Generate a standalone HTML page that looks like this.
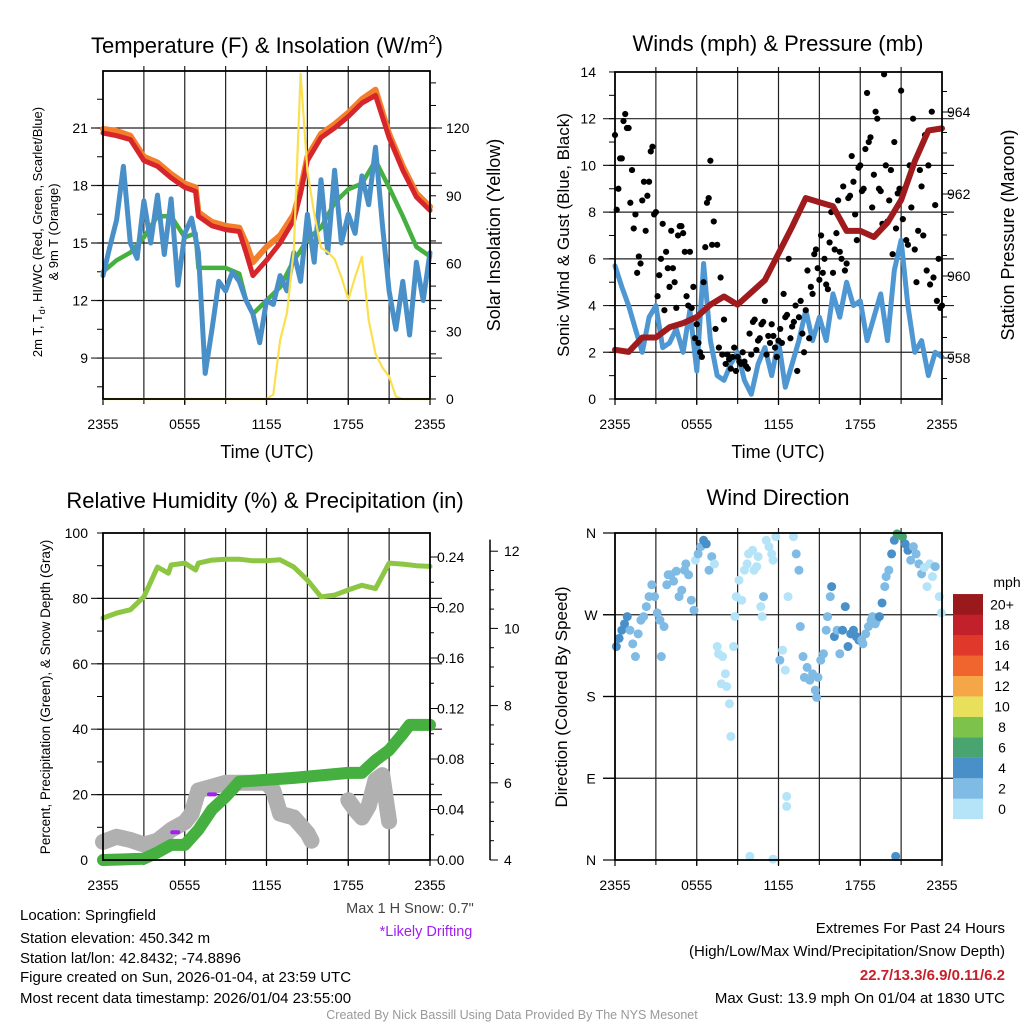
<!DOCTYPE html>
<html><head><meta charset="utf-8">
<style>
html,body{margin:0;padding:0;background:#fff;}
svg{display:block;font-family:"Liberation Sans",Arial,sans-serif;}
text{fill:#000;}
</style></head>
<body>
<svg id="chart" width="1024" height="1024" viewBox="0 0 1024 1024" xmlns="http://www.w3.org/2000/svg">
<rect x="0" y="0" width="1024" height="1024" fill="#fff"/>
<text x="267" y="53" font-size="22" text-anchor="middle">Temperature (F) &amp; Insolation (W/m<tspan font-size="13" dy="-9">2</tspan><tspan dy="9">)</tspan></text>
<text x="778" y="51" font-size="22" text-anchor="middle">Winds (mph) &amp; Pressure (mb)</text>
<text x="265" y="508" font-size="22" text-anchor="middle">Relative Humidity (%) &amp; Precipitation (in)</text>
<text x="778" y="505" font-size="22" text-anchor="middle">Wind Direction</text>
<text x="267" y="458" font-size="18" text-anchor="middle">Time (UTC)</text>
<text x="778" y="458" font-size="18" text-anchor="middle">Time (UTC)</text>
<text transform="translate(42,232) rotate(-90)" font-size="13" text-anchor="middle">2m T, T<tspan font-size="9" dy="3">d</tspan><tspan dy="-3">, HI/WC (Red, Green, Scarlet/Blue)</tspan></text>
<text transform="translate(58,232) rotate(-90)" font-size="13" text-anchor="middle">&amp; 9m T (Orange)</text>
<text transform="translate(500,235) rotate(-90)" font-size="18" text-anchor="middle">Solar Insolation (Yellow)</text>
<text transform="translate(569,235) rotate(-90)" font-size="17" text-anchor="middle">Sonic Wind &amp; Gust (Blue, Black)</text>
<text transform="translate(1014,235) rotate(-90)" font-size="18" text-anchor="middle">Station Pressure (Maroon)</text>
<text transform="translate(50,697) rotate(-90)" font-size="13.5" text-anchor="middle">Percent, Precipitation (Green), &amp; Snow Depth (Gray)</text>
<text transform="translate(567,697) rotate(-90)" font-size="17" text-anchor="middle">Direction (Colored By Speed)</text>
<g font-size="15">
<text x="20" y="920">Location: Springfield</text>
<text x="20" y="943">Station elevation: 450.342 m</text>
<text x="20" y="963">Station lat/lon: 42.8432; -74.8896</text>
<text x="20" y="982">Figure created on Sun, 2026-01-04, at 23:59 UTC</text>
<text x="20" y="1003">Most recent data timestamp: 2026/01/04 23:55:00</text>
</g>
<text x="410" y="913" font-size="14.5" text-anchor="middle" style="fill:#444">Max 1 H Snow: 0.7"</text>
<text x="426" y="936" font-size="14.5" text-anchor="middle" style="fill:#a020f0">*Likely Drifting</text>
<g font-size="15" text-anchor="end">
<text x="1005" y="933">Extremes For Past 24 Hours</text>
<text x="1005" y="956">(High/Low/Max Wind/Precipitation/Snow Depth)</text>
<text x="1005" y="980" font-weight="bold" style="fill:#c8202a">22.7/13.3/6.9/0.11/6.2</text>
<text x="1005" y="1003">Max Gust: 13.9 mph On 01/04 at 1830 UTC</text>
</g>
<text x="512" y="1019" font-size="12.5" text-anchor="middle" style="fill:#999">Created By Nick Bassill Using Data Provided By The NYS Mesonet</text>
<g id="layer"></g>
</svg>
<script>
// ---------- DATA ----------
const xTickLabels = ["2355","0555","1155","1755","2355"];
const tempHours = [0,1,2,3,4,5,6,6.8,7,8,9,10,10.5,11,12,13,14,14.5,15,16,17,18,19,20,21,22,23,24];
const redHIWC = [20.74,20.6,20.4,19.3,19.0,18.4,17.9,17.7,16.4,15.9,15.7,15.6,14.5,13.3,14.1,15.0,16.2,17.6,19.3,20.5,21.0,21.6,22.3,22.7,20.5,18.8,17.4,16.7];
const orange9m = [20.95,20.85,20.6,19.5,19.2,18.6,18.1,17.9,16.6,16.1,15.9,15.8,15.0,14.0,14.8,15.4,16.5,17.8,19.5,20.7,21.2,21.8,22.5,23.0,20.7,19.0,17.6,16.9];
const greenDew = [13.5,14.1,14.5,15.3,16.4,16.4,15.3,15.5,13.7,13.7,13.7,13.4,12.0,11.3,12.0,12.7,14.1,14.6,15.2,15.8,17.1,17.8,18.1,19.3,17.9,16.4,14.8,14.3];
const blueTemp = [13.3,14.8,16.2,19.0,15.0,14.2,17.2,15.0,17.5,14.4,17.3,12.8,15.5,16.3,14.5,8.2,10.5,13.0,12.5,13.5,13.0,12.0,11.3,9.8,12.0,11.8,13.3,12.5,14.5,13.0,16.5,14.0,18.3,14.5,18.8,15.0,16.5,15.5,18.5,17.0,20.0,16.0,12.5,10.5,13.0,10.2,14.0,12.0,14.5];
const solar = [0,0,0,0,0,0,0,0,0,0,0,0,0,0,0,0,0,0,0,0,0,0,0,0,0,2,26,38,66,144,101,82,67,65,62,54,44,54,63,35,20,14,10,1,0,0,0,0,0];
const tempTicks = [9,12,15,18,21];
const solarTicks = [0,30,60,90,120];

const pressHours = [0,1,2,3,4,5,6,7,8,9,10,11,12,13,14,15,16,17,18,19,20,21,22,23,24];
const pressure = [958.2,958.15,958.5,958.5,958.75,958.85,959.0,959.3,959.5,959.3,959.6,959.9,960.55,961.2,961.9,961.8,961.7,961.1,961.1,960.95,961.3,961.85,962.8,963.55,963.6];
const wind = [5.7,4.8,4.0,3.0,2.0,3.5,4.0,2.2,2.4,3.0,2.0,3.8,1.2,5.8,2.5,1.0,0.8,1.5,2.0,0.8,0.2,1.5,2.2,1.0,2.5,0.5,1.5,2.5,3.8,2.5,3.5,2.5,4.5,3.5,5.0,4.0,4.2,2.5,3.5,4.5,2.5,5.5,6.8,4.0,2.0,2.5,1.0,2.0,1.8];
const gustA = [11.3,9.0,10.3,12.2,11.6,9.8,7.9,6.1,8.5,7.2,9.3,10.8,8.0,5.3,7.5,6.3,4.8,5.6,3.9,7.4,7.1,4.4,6.3,4.8,3.2,2.0,5.0,8.4,10.2,7.6,6.6,5.2,3.4,1.9,1.3,2.2,1.8,1.5,1.6,1.3,1.9,3.4,2.5,3.2,4.2,2.7,3.2,2.2,2.5,2.4,3.5,6.0,3.1,4.0,3.5,2.8,3.8,2.6,4.5,6.4,5.1,5.4,4.9,6.7,5.4,7.1,6.3,9.1,5.8,8.7,9.3,6.8,10.0,9.0,13.1,11.2,9.6,12.0,8.9,13.9,7.6,9.8,11.0,8.8,13.2,9.0,6.6,8.2,6.4,7.2,9.1,11.3,10.0,12.3,8.3,6.0,4.0];
const gustB = [8.1,10.3,11.9,11.6,8.4,7.3,5.4,5.8,9.3,8.7,10.6,7.9,4.4,6.0,3.8,5.6,7.2,5.0,7.0,7.4,6.3,4.0,3.9,2.6,2.4,1.8,6.5,8.6,6.6,3.0,2.2,1.9,1.5,1.7,1.8,1.2,1.6,2.0,1.4,2.8,3.3,2.1,2.6,3.3,1.9,2.4,2.7,1.8,3.0,4.5,3.6,2.6,3.3,1.2,4.2,2.0,5.5,4.8,6.2,5.6,7.0,6.0,4.7,8.0,6.4,8.5,6.0,5.5,8.6,10.4,7.9,9.9,8.9,10.7,11.0,8.2,12.3,9.0,7.5,10.0,8.5,6.2,7.3,9.0,7.7,6.8,10.0,12.0,5.0,9.8,7.0,5.5,4.9,5.2,4.2,3.9];
const windTicks = [0,2,4,6,8,10,12,14];
const pressTicks = [958,960,962,964];

const rhHours = [0,1,2,3,4,4.8,5,6,6.8,7,8,9,10,11,12,13,14,15,16,17,18,19,20,21,22,23,24];
const rh = [74,75.5,76.5,80.5,89.6,87.7,90.2,90.8,88.7,90.8,91.7,92,92,91.5,91.5,91.8,89.6,85.6,80.5,81,82.6,84,83,90.8,90.5,90,89.8];
const precipHours = [0,3,4,5,6,7,8,9,10,14,18,19,20,21,22,22.5,24];
const precip = [0,0.001,0.006,0.012,0.012,0.024,0.04,0.05,0.062,0.065,0.069,0.069,0.079,0.087,0.1,0.107,0.107];
const snowHours = [0,1,2,3,4,5,6,6.5,7,8,9,10,11,12,12.5,13,14,15,15.3,null,18,18.5,19,19.5,20,20.5,21,null,24];
const snow = [4.47,4.6,4.52,4.4,4.5,4.78,4.98,5.2,5.8,5.9,6.0,6.0,6.0,6.0,5.8,5.2,5.1,4.7,4.5,null,5.55,5.3,5.1,5.4,6.07,6.2,5.0,null,6.2];
const driftHours = [5.3,8.0];
const driftSnow = [4.72,5.7];
const rhTicks = [0,20,40,60,80,100];
const precipTicks = [0,0.04,0.08,0.12,0.16,0.20,0.24];
const snowTicks = [4,6,8,10,12];

const dirHours = [0.1,0.3,0.5,0.7,0.9, 1.1,1.3,1.5,1.7,1.9, 2.1,2.3,2.5,2.7,2.9, 3.1,3.3,3.4,3.6,3.8,3.9, 4.1,4.3,4.5,4.7,4.9, 5.1,5.2,5.4,5.6,5.8,5.9, 6.1,6.3,6.5,6.7,6.9, 7.1,7.3,7.5,7.6,7.8,7.9, 8.1,8.2,8.4,8.5,8.7,8.8,8.9, 9.1,9.3,9.5,9.7,9.8,9.9, 10.1,10.2,10.4,10.5,10.7,10.8,10.9, 11.1,11.3,11.5,11.6,11.8,11.6, 12.1,12.3,12.5,12.7,12.6,12.6, 13.1,13.3,13.5,13.6,13.8,13.9, 14.1,14.3,14.5,14.7,14.8,14.9, 15.1,15.3,15.5,15.6,15.8,15.9, 16.1,16.3,16.5,16.7,16.9, 17.1,17.3,17.5,17.7,17.9, 18.1,18.2,18.4,18.6,18.8,18.9, 19.1,19.2,19.4,19.6,19.8,19.9, 20.1,20.3,20.5,20.7,20.6, 21.1,21.3,21.5,21.7,21.9, 22.1,22.3,22.5,22.7,22.9, 23.1,23.3,23.5,23.8,23.95];
const dirValues = [235,244,253,260,268, 253,238,224,249,264, 268,279,290,303,290, 272,264,224,257,303,314, 314,307,318,290,297, 319,326,314,286,275,330, 337,345,352,348,319, 334,326,235,227,194,224, 205,191,172,136,235,268,290, 308,286,319,326,337,4, 341,319,323,334,279,268,290, 352,345,337,330,356,1, 220,231,209,290,70,59, 356,337,319,257,224,201, 212,198,205,187,179,201, 220,227,253,268,290,301, 246,253,227,253,279, 235,249,253,246,242, 242,238,249,257,264,268, 260,264,268,283,301,312, 319,337,352,359,4, 356,348,341,330,345, 337,326,315,322,301, 326,312,323,290,272];
const dirTickLabels = ["N","E","S","W","N"];
const dirTicks = [0,90,180,270,360];
const speedBins = ["0","2","4","6","8","10","12","14","16","18","20+"];
const speedColors = ["#b5e3f8","#7fbbe5","#4a90c8","#48a56f","#7dc24b","#e8e05a","#f5a748","#f0652d","#e0392b","#c2202a","#99191c"];

// ---------- HELPERS ----------
const NS = "http://www.w3.org/2000/svg";
const layer = document.getElementById("layer");
function mk(tag, parent){ const e = document.createElementNS(NS, tag); (parent||layer).appendChild(e); return e; }
function set(e, o){ for (const k in o) e.setAttribute(k, o[k]); return e; }
const P1 = {x0:103,x1:430,y0:71,y1:399};
const P2 = {x0:615,x1:942,y0:72,y1:399};
const P3 = {x0:103,x1:430,y0:533,y1:860};
const P4 = {x0:615,x1:942,y0:533,y1:860};
function xh(P,h){ return P.x0 + h*(P.x1-P.x0)/24; }
const yTemp = t => 128 + (21 - t)*19.17;
const ySolar = v => 399 - v*2.258;
const yWind = s => 399 - s*23.36;
const yPress = p => 358 - (p-958)*41;
const yRH = r => 860 - r*3.27;
const yPrecip = p => 860 - p*1262.5;
const ySnow = s => 860 - (s-4)*38.6;
const yDir = d => 860 - d*327/360;

function pathFrom(hours, vals, P, yf){
  let d = "", pen = false;
  for (let i=0;i<vals.length;i++){
    if (vals[i]===null || hours[i]===null){ pen=false; continue; }
    d += (pen?"L":"M") + xh(P,hours[i]).toFixed(1) + " " + yf(vals[i]).toFixed(1) + " ";
    pen = true;
  }
  return d;
}
function line(x1,y1,x2,y2,stroke,w,name){
  const e = mk("line");
  set(e,{x1:x1,y1:y1,x2:x2,y2:y2,stroke:stroke,"stroke-width":w});
  
  
  return e;
}
function label(x,y,txt,anchor,size,name){
  const e = mk("text");
  set(e,{x:x,y:y,"text-anchor":anchor,"font-size":size,"dominant-baseline":"central"});
  e.textContent = txt;
  
  
  return e;
}
function series(hours, vals, P, yf, color, w, name){
  const e = mk("path");
  set(e,{d:pathFrom(hours,vals,P,yf),fill:"none",stroke:color,"stroke-width":w,"stroke-linejoin":"round","stroke-linecap":"round"});
  
  
  return e;
}
function stepHours(n, step, off){ const a=[]; for(let i=0;i<n;i++) a.push(i*step+(off||0)); return a; }
function xGrid(P, name){
  for (let k=1;k<8;k++){ const x = xh(P,k*3); line(x,P.y0-5,x,P.y1+5,"#222",1.2,name+"-vgrid"); }
  for (let k=0;k<5;k++){
    const x = xh(P,k*6);
    line(x,P.y1,x,P.y1+6,"#000",1.2,name+"-x-tick");
    label(x,P.y1+25,xTickLabels[k],"middle",14,name+"-x-tick-label");
  }
}
function frame(P,name){
  const e = mk("rect");
  set(e,{x:P.x0,y:P.y0,width:P.x1-P.x0,height:P.y1-P.y0,fill:"none",stroke:"#000","stroke-width":1.8});
  
  
}
function hgrid(P,y,name){ line(P.x0-12,y,P.x1+12,y,"#222",1.2,name); }

// ---------- PANEL 1 ----------
xGrid(P1,"temp");
tempTicks.forEach(t=>{ hgrid(P1,yTemp(t),"temp-hgrid"); label(88,yTemp(t),String(t),"end",14,"temp-y-tick-label"); });
for (let t=7.5;t<=24;t+=1.5){ const y=yTemp(t); if(y>P1.y0 && y<P1.y1) line(P1.x0-6,y,P1.x0,y,"#000",1,"temp-y-minor-tick"); }
for (let v=0;v<=140;v+=10){ line(P1.x1,ySolar(v),P1.x1+6,ySolar(v),"#000",1,"solar-y-tick"); }
solarTicks.forEach(v=>{ label(446,ySolar(v),String(v),"start",14,"solar-y-tick-label"); });
series(tempHours,greenDew,P1,yTemp,"#45b03f",4.5,"dewpoint-line");
series(stepHours(blueTemp.length,0.5),blueTemp,P1,yTemp,"#4a90c8",5,"hiwc-blue-line");
series(tempHours,orange9m,P1,yTemp,"#f47f2b",6,"9m-temp-line");
series(tempHours,redHIWC,P1,yTemp,"#d7262b",5,"2m-temp-line");
series(stepHours(solar.length,0.5),solar.map(v=>Math.min(v,146)),P1,ySolar,"#fbe04e",2.2,"solar-line");
frame(P1,"temp");

// ---------- PANEL 2 ----------
xGrid(P2,"wind");
windTicks.forEach(s=>{ if(s>0 && s<14) hgrid(P2,yWind(s),"wind-hgrid"); label(596,yWind(s),String(s),"end",14,"wind-y-tick-label"); });
for (let s=0;s<=14;s+=1){ line(P2.x0-6,yWind(s),P2.x0,yWind(s),"#000",1,"wind-y-minor-tick"); }
for (let p=957;p<=964.5;p+=0.5){ const y=yPress(p); if(y>P2.y0&&y<P2.y1) line(P2.x1,y,P2.x1+(p%2===0?10:5),y,"#000",1,"pressure-y-tick"); }
pressTicks.forEach(p=>{ label(947,yPress(p),String(p),"start",14,"pressure-y-tick-label"); });
series(stepHours(wind.length,0.5),wind,P2,yWind,"#4e97d2",5,"sonic-wind-line");
[[gustA,0],[gustB,0.125]].forEach(([arr,off])=>{
  arr.forEach((g,i)=>{
    const c = mk("circle");
    set(c,{cx:xh(P2,i*0.25+off),cy:yWind(g),r:3.1,fill:"#000"});
    
    
  });
});
series(pressHours,pressure,P2,yPress,"#a01b1e",6,"pressure-line");
frame(P2,"wind");

// ---------- PANEL 3 ----------
xGrid(P3,"rh");
rhTicks.forEach(r=>{ if(r>0&&r<100) hgrid(P3,yRH(r),"rh-hgrid"); label(88,yRH(r),String(r),"end",14,"rh-y-tick-label"); });
for (let r=0;r<=100;r+=10){ line(P3.x0-6,yRH(r),P3.x0,yRH(r),"#000",1,"rh-y-minor-tick"); }
for (let p=0;p<=0.25;p+=0.02){ const y=yPrecip(p); line(P3.x1,y,P3.x1+(Math.round(p*100)%4===0?8:4),y,"#000",1,"precip-y-tick"); }
precipTicks.forEach(p=>{ label(437,yPrecip(p),p.toFixed(2),"start",14,"precip-y-tick-label"); });
line(490,ySnow(12.3),490,860,"#000",1.5,"snow-axis-line");
for (let s=4;s<=12.25;s+=0.5){ line(490,ySnow(s),490+(s%2===0?8:4),ySnow(s),"#000",1,"snow-y-tick"); }
snowTicks.forEach(s=>{ label(504,ySnow(s),String(s),"start",14,"snow-y-tick-label"); });
series(rhHours,rh,P3,yRH,"#8dc643",5,"rh-line");
series(snowHours,snow,P3,ySnow,"#b0b0b0",16,"snow-depth-line");
series(precipHours,precip,P3,yPrecip,"#45b03f",12,"precip-line");
driftHours.forEach((h,i)=>{
  const e = mk("rect");
  set(e,{x:xh(P3,h)-5,y:ySnow(driftSnow[i])-2,width:10,height:4,fill:"#a020f0",rx:2});
  
  
});
frame(P3,"rh");

// ---------- PANEL 4 ----------
xGrid(P4,"dir");
dirTicks.forEach((d,i)=>{ if(d>0&&d<360) hgrid(P4,yDir(d),"dir-hgrid"); line(P4.x0-12,yDir(d),P4.x0,yDir(d),"#000",1.2,"dir-y-tick"); label(591,yDir(d),dirTickLabels[i],"middle",14,"dir-y-tick-label"); });
function speedAt(h){ const i=Math.min(Math.floor(h/0.5),wind.length-2); const f=(h-i*0.5)/0.5; return wind[i]*(1-f)+wind[i+1]*f; }
dirHours.forEach((h,i)=>{
  const s = speedAt(h);
  const bin = Math.min(Math.floor(s/2),10);
  const c = mk("circle");
  set(c,{cx:xh(P4,h),cy:yDir(dirValues[i]),r:4.5,fill:speedColors[bin]});
  
  
});
frame(P4,"dir");
label(1007,582,"mph","middle",14,"colorbar-title");
for (let b=0;b<11;b++){
  const y = 819 - (b+1)*20.45;
  const r = mk("rect");
  set(r,{x:953,y:y,width:30,height:20.6,fill:speedColors[b]});
  
  
  label(1002,y+10.2,speedBins[b],"middle",14,"colorbar-label");
}
</script>
</body></html>
